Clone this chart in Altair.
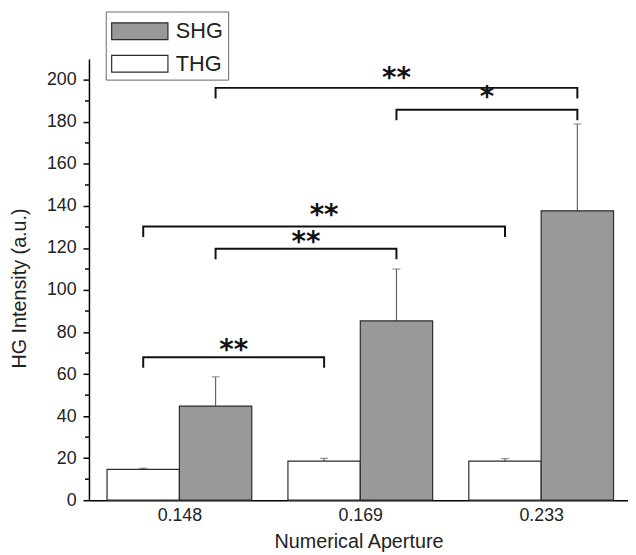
import altair as alt
import pandas as pd

# ---- data ----
apertures = ["0.148", "0.169", "0.233"]
series = ["THG", "SHG"]
thg_mean = [14.7, 18.6, 18.6]
thg_err = [0.5, 1.3, 1.2]
shg_mean = [44.8, 85.3, 137.7]
shg_err = [13.9, 24.7, 41.3]

# significance brackets
br_from = ["0.148", "0.148", "0.148", "0.148", "0.169"]
br_to = ["0.169", "0.169", "0.233", "0.233", "0.233"]
br_series = ["THG", "SHG", "THG", "SHG", "SHG"]
br_height = [68.0, 119.6, 130.2, 196.2, 185.8]
br_label = ["**", "**", "**", "**", "*"]
br_label_y = [71.9, 123.2, 136.2, 201.2, 192.1]

y_major = [0, 20, 40, 60, 80, 100, 120, 140, 160, 180, 200]
y_minor = [10, 30, 50, 70, 90, 110, 130, 150, 170, 190]

# ---- layout helpers (group index + offset within group) ----
PAD = 0.1
BAR_W = 0.4
LEG = 5.0
means = {"THG": thg_mean, "SHG": shg_mean}
errs = {"THG": thg_err, "SHG": shg_err}

rows = []
for i, na in enumerate(apertures):
    for k, s in enumerate(series):
        x0 = i + PAD + k * BAR_W
        m = means[s][i]
        e = errs[s][i]
        rows.append(dict(na=na, series=s, mean=m, top=m + e,
                         x0=x0, x1=x0 + BAR_W, xc=x0 + BAR_W / 2))
bars_df = pd.DataFrame(rows)


def center(na, s):
    return apertures.index(na) + PAD + series.index(s) * BAR_W + BAR_W / 2


line_rows, text_rows = [], []
for j in range(len(br_from)):
    a = center(br_from[j], br_series[j])
    b = center(br_to[j], br_series[j])
    h = br_height[j]
    for k, (px, py) in enumerate([(a, h - LEG), (a, h), (b, h), (b, h - LEG)]):
        line_rows.append(dict(id=j, k=k, px=px, py=py))
    text_rows.append(dict(mx=(a + b) / 2, ly=br_label_y[j], label=br_label[j]))
lines_df = pd.DataFrame(line_rows)
text_df = pd.DataFrame(text_rows)
minor_df = pd.DataFrame({"v": y_minor})

FONT = "Liberation Sans"
xscale = alt.Scale(domain=[0, 2.98], nice=False, zero=False, padding=0)
yscale = alt.Scale(domain=[0, 210], nice=False, padding=0)

label_expr = "[" + ",".join("'%s'" % a for a in apertures) + "][floor(datum.value)]"

xaxis = alt.Axis(values=[i + 0.5 for i in range(len(apertures))], labelExpr=label_expr,
                 ticks=False, grid=False, domainColor="black", domainWidth=1.5,
                 labelFont=FONT, labelFontSize=18, labelColor="#222", labelPadding=7,
                 title="Numerical Aperture", titleFont=FONT, titleFontSize=20,
                 titleFontWeight="normal", titleColor="#222", titlePadding=7)
yaxis = alt.Axis(values=y_major, tickSize=6, tickColor="black", tickWidth=1.5,
                 domainColor="black", domainWidth=1.5, grid=False,
                 labelFont=FONT, labelFontSize=18, labelColor="#222", labelPadding=7,
                 title="HG Intensity (a.u.)", titleFont=FONT, titleFontSize=20,
                 titleFontWeight="normal", titleColor="#222", titleAngle=-90,
                 titleX=-70, titleY=232, titleAlign="center", titleBaseline="middle")

base = alt.Chart(bars_df)

err = base.mark_rule(color="#666", strokeWidth=1.2).encode(
    x=alt.X("xc:Q", scale=xscale, axis=xaxis), y=alt.Y("mean:Q", scale=yscale, axis=yaxis), y2="top:Q")
cap = base.mark_tick(orient="horizontal", size=8, thickness=1.2, color="#666").encode(
    x=alt.X("xc:Q", scale=xscale), y=alt.Y("top:Q", scale=yscale))

bars = base.mark_bar(stroke="#2b2b2b", strokeWidth=1.2, opacity=1).encode(
    x=alt.X("x0:Q", scale=xscale, axis=xaxis),
    x2="x1:Q",
    y=alt.Y("mean:Q", scale=yscale, axis=yaxis),
    y2=alt.datum(0),
    fill=alt.Fill("series:N",
                  scale=alt.Scale(domain=["SHG", "THG"], range=["#999999", "#ffffff"]),
                  legend=alt.Legend(title=None, orient="none", legendX=17, legendY=-48,
                                    symbolType="M-1,-0.607H3.071V0.607H-1Z", symbolSize=784,
                                    symbolStrokeColor="#2b2b2b", symbolStrokeWidth=1.2,
                                    symbolOpacity=1,
                                    labelFont=FONT, labelFontSize=22, labelColor="#222",
                                    labelOffset=36, strokeColor="#666", padding=5,
                                    rowPadding=7, fillColor="white")),
)

minor = alt.Chart(minor_df).mark_rule(color="black", strokeWidth=1.5).encode(
    y=alt.Y("v:Q", scale=yscale), x=alt.value(-4), x2=alt.value(0))

brackets = alt.Chart(lines_df).mark_line(color="#111", strokeWidth=2).encode(
    x=alt.X("px:Q", scale=xscale), y=alt.Y("py:Q", scale=yscale),
    detail="id:N", order="k:O")

stars = alt.Chart(text_df).mark_text(font="DejaVu Sans", fontSize=28, fontWeight="bold",
                                     baseline="alphabetic", dy=10, color="#111").encode(
    x=alt.X("mx:Q", scale=xscale), y=alt.Y("ly:Q", scale=yscale), text="label:N")

chart = alt.layer(err, cap, bars, minor, brackets, stars).properties(
    width=546, height=447,
    background="white",
    autosize=alt.AutoSizeParams(type="none"),
    padding={"left": 82, "top": 48, "right": 0, "bottom": 54},
).configure_view(stroke=None)

chart.save("out.html", embed_options={"renderer": "svg", "actions": False})
